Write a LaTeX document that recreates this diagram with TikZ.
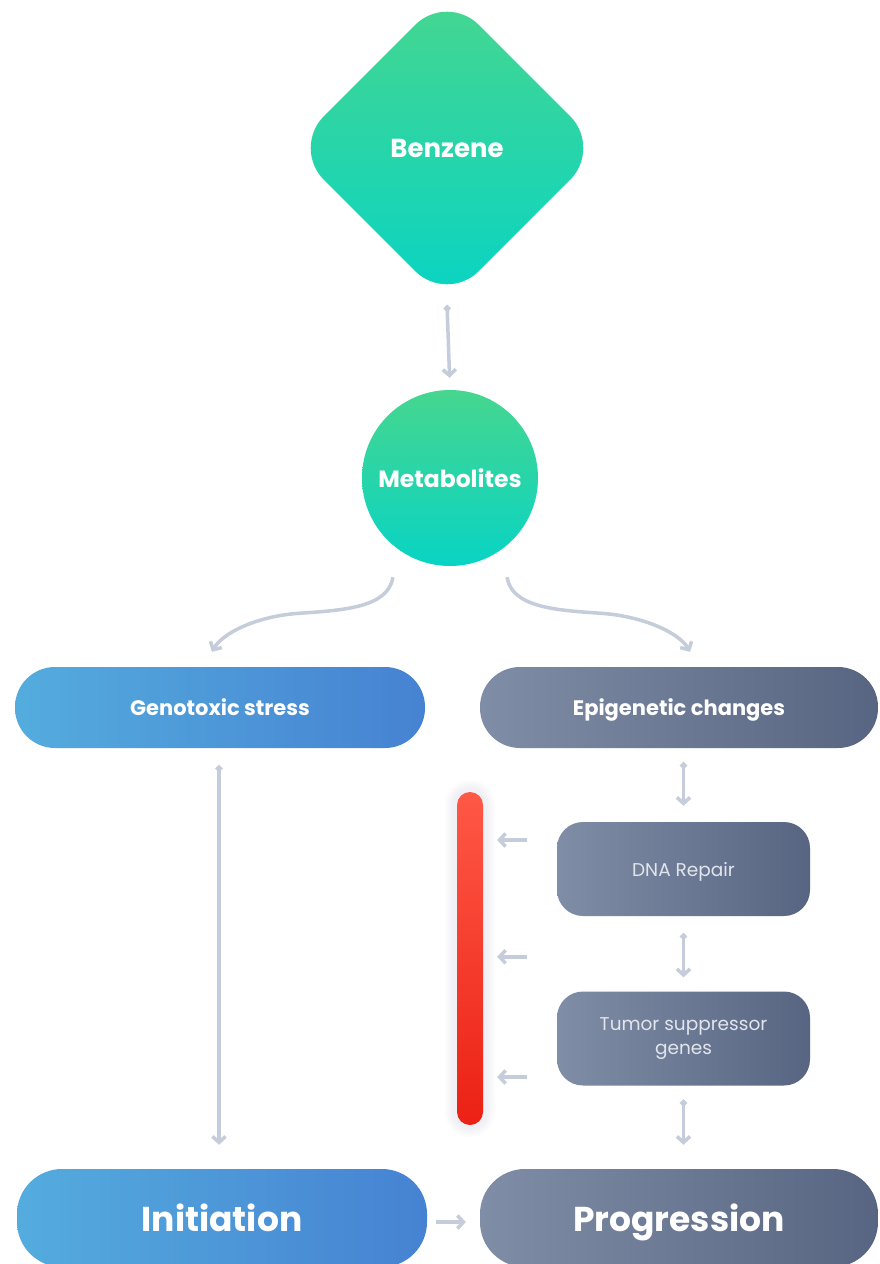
\documentclass[tikz,border=0pt]{standalone}
\usepackage{fontspec}
\setmainfont{Poppins}
\usetikzlibrary{arrows.meta,shapes.geometric,calc}

\definecolor{mintTop}{RGB}{70,214,143}
\definecolor{mintBot}{RGB}{8,212,196}
\definecolor{blueL}{RGB}{84,172,222}
\definecolor{blueR}{RGB}{70,130,210}
\definecolor{greyL}{RGB}{128,141,166}
\definecolor{greyR}{RGB}{88,101,130}
\definecolor{redTop}{RGB}{255,88,70}
\definecolor{redBot}{RGB}{235,33,20}
\definecolor{linkGrey}{RGB}{197,204,218}
\definecolor{txtGrey}{RGB}{225,229,236}
\definecolor{glow}{RGB}{170,185,220}

\begin{document}
\begin{tikzpicture}[x=1pt,y=-1pt]
        \tikzstyle{mint}=[text=white,font=\bfseries,top color=mintTop,bottom color=mintBot,inner sep=0pt]
        \tikzstyle{bluepill}=[rectangle,rounded corners=40pt,inner sep=0pt,text depth=0pt,text=white,font=\bfseries,left color=blueL,right color=blueR]
        \tikzstyle{greypill}=[rectangle,rounded corners=40pt,inner sep=0pt,text depth=0pt,text=white,font=\bfseries,left color=greyL,right color=greyR]
        \tikzstyle{greybox}=[rectangle,rounded corners=26pt,minimum width=253pt,minimum height=94pt,align=center,left color=greyL,right color=greyR,text=txtGrey,font=\fontsize{18.5pt}{24pt}\selectfont]
        \tikzstyle{link}=[draw=linkGrey,line width=3.5pt,{Circle[length=6.5pt]}-{Straight Barb[length=6pt,width=13pt]}]
        \tikzstyle{push}=[draw=linkGrey,line width=3.5pt,-{Straight Barb[length=6pt,width=13pt]}]

        \path[use as bounding box,fill=white] (0,0) rectangle (879,1264);

        \node [mint,diamond,aspect=1,rounded corners=45pt,minimum width=310pt,minimum height=310pt] (benz) at (447,148) {\fontsize{26pt}{32pt}\selectfont Benzene};
        \node [mint,circle,minimum size=176pt] (metab) at (450,478) {\fontsize{23.5pt}{30pt}\selectfont Metabolites};

        \node [bluepill,minimum width=410pt,minimum height=81pt] (geno) at (220,707.5) {\fontsize{21pt}{26pt}\selectfont Genotoxic stress};
        \node [greypill,minimum width=398pt,minimum height=81pt] (epi) at (679,707.5) {\fontsize{21pt}{26pt}\selectfont Epigenetic changes};

        \node [greybox,text depth=0pt] (dna) at (683.5,869) {DNA Repair};
        \node [greybox] (tumor) at (683.5,1038.5) {Tumor suppressor\\genes};

        % soft glow behind the bar
        \foreach \g in {12,10,8,6,4} {
          \fill[glow,opacity=0.035,rounded corners=13pt+\g pt] (457-\g,792-\g) rectangle (483+\g,1125+\g);
        }
        \node [rectangle,rounded corners=13pt,minimum width=26pt,minimum height=333pt,inner sep=0pt,top color=redTop,bottom color=redBot] (bar) at (470,958.5) {};

        \node [bluepill,rounded corners=45pt,minimum width=410pt,minimum height=98pt] (init) at (222,1218) {\fontsize{34.5pt}{40pt}\selectfont Initiation};
        \node [greypill,rounded corners=45pt,minimum width=398pt,minimum height=98pt] (prog) at (679,1218) {\fontsize{34.5pt}{40pt}\selectfont Progression};

        \draw[link,shorten <=2pt,shorten >=12pt] (benz.south) -- (metab.north);

        \draw[-{Straight Barb[length=6pt,width=13pt]},draw=linkGrey,line width=3.5pt]
          ($(metab.south)+(-57,11)$) .. controls +(-5,30) and +(45,-3) .. ($(metab.south)+(-150,47)$)
          .. controls +(-45,3) and +(10,-18) .. ($(geno.north)+(-8,-15)$);
        \draw[-{Straight Barb[length=6pt,width=13pt]},draw=linkGrey,line width=3.5pt]
          ($(metab.south)+(57,11)$) .. controls +(5,30) and +(-45,-3) .. ($(metab.south)+(150,47)$)
          .. controls +(45,3) and +(-10,-18) .. ($(epi.north)+(11,-15)$);

        \draw[link,shorten <=17pt,shorten >=24pt] ($(geno.south)+(-1,0)$) -- ($(init.north)+(-3,0)$);
        \draw[link,shorten <=14pt,shorten >=16pt] (epi.south -| dna.north) -- (dna.north);
        \draw[link,shorten <=17pt,shorten >=14pt] (dna.south) -- (tumor.north);
        \draw[link,shorten <=14pt,shorten >=24pt] (tumor.south) -- (tumor.south |- prog.north);

        \draw[push,shorten <=30pt,shorten >=14pt] ($(dna.west)+(0,-29)$) -- ($(bar.east |- dna.west)+(0,-29)$);
        \draw[push,shorten <=30pt,shorten >=14pt] ($(dna.south west)!0.5!(tumor.north west)+(0,3)$) -- ($(bar.east |- dna.south)!0.5!(bar.east |- tumor.north)+(0,3)$);
        \draw[push,shorten <=30pt,shorten >=14pt] ($(tumor.west)+(0,38.5)$) -- ($(bar.east |- tumor.west)+(0,38.5)$);

        \draw[push,shorten <=9pt,shorten >=14pt] (init.east |- 0,1222) -- (prog.west |- 0,1222);
\end{tikzpicture}
\end{document}
